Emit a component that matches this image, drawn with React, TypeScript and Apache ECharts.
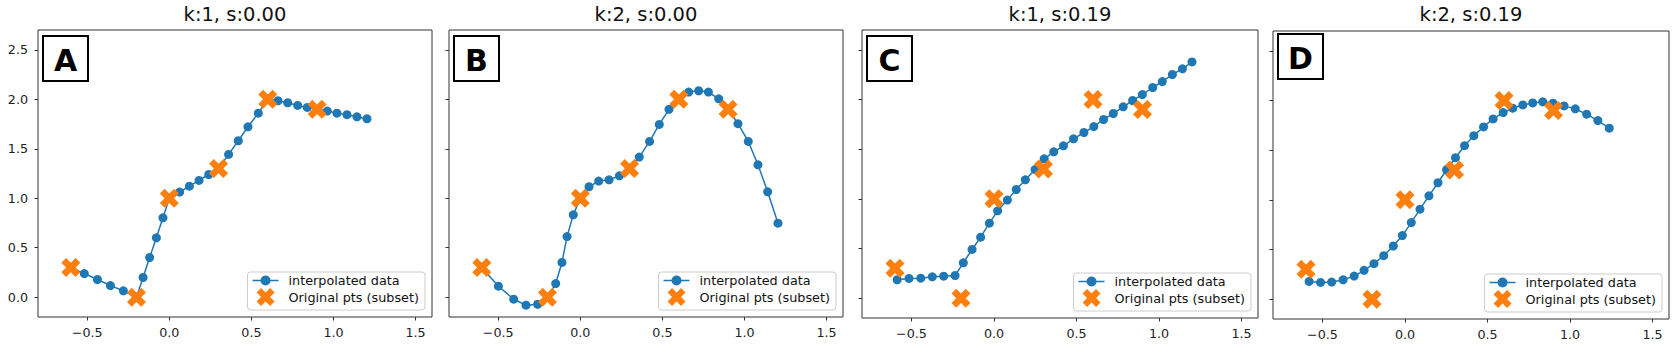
import React, { useEffect, useRef } from "react";
import * as echarts from "echarts";

// ---------- data ----------
const titles = ["k:1, s:0.00", "k:2, s:0.00", "k:1, s:0.19", "k:2, s:0.19"];
const panelLabels = ["A", "B", "C", "D"];
const lineName = "interpolated data";
const ptsName = "Original pts (subset)";

const origX = [-0.6, -0.2, 0.0, 0.3, 0.6, 0.9];
const origY = [0.3, 0.0, 1.0, 1.3, 2.0, 1.9];

const interpAX = [-0.6, -0.518, -0.438, -0.359, -0.28, -0.2, -0.16, -0.12, -0.079, -0.039, 0, 0.063, 0.122, 0.181, 0.24, 0.3, 0.361, 0.42, 0.479, 0.542, 0.6, 0.662, 0.721, 0.782, 0.84, 0.9, 0.962, 1.021, 1.082, 1.143, 1.204];
const interpAY = [0.3, 0.239, 0.179, 0.118, 0.064, 0.0, 0.199, 0.401, 0.6, 0.802, 1.0, 1.062, 1.122, 1.18, 1.24, 1.3, 1.443, 1.581, 1.722, 1.86, 2.0, 1.985, 1.965, 1.938, 1.918, 1.9, 1.881, 1.86, 1.844, 1.823, 1.803];

const interpBX = [-0.601, -0.499, -0.406, -0.331, -0.26, -0.2, -0.15, -0.112, -0.081, -0.043, 0, 0.053, 0.112, 0.175, 0.238, 0.298, 0.359, 0.422, 0.481, 0.54, 0.599, 0.66, 0.721, 0.78, 0.843, 0.901, 0.96, 1.023, 1.082, 1.141, 1.204];
const interpBY = [0.3, 0.111, -0.02, -0.081, -0.071, 0, 0.138, 0.351, 0.613, 0.832, 1.0, 1.116, 1.173, 1.186, 1.227, 1.301, 1.416, 1.574, 1.746, 1.898, 2.002, 2.073, 2.086, 2.073, 2.005, 1.901, 1.753, 1.574, 1.338, 1.065, 0.748];

const interpCX = [-0.587, -0.515, -0.444, -0.374, -0.305, -0.236, -0.186, -0.133, -0.081, -0.028, 0.022, 0.081, 0.135, 0.19, 0.249, 0.304, 0.362, 0.421, 0.482, 0.545, 0.605, 0.664, 0.723, 0.783, 0.84, 0.899, 0.962, 1.02, 1.081, 1.142, 1.2];
const interpCY = [0.185, 0.198, 0.201, 0.215, 0.221, 0.228, 0.356, 0.49, 0.614, 0.755, 0.879, 0.987, 1.094, 1.191, 1.295, 1.403, 1.473, 1.534, 1.604, 1.668, 1.728, 1.799, 1.859, 1.926, 1.99, 2.05, 2.121, 2.181, 2.252, 2.309, 2.379];

const interpDX = [-0.581, -0.512, -0.444, -0.375, -0.308, -0.248, -0.188, -0.129, -0.071, -0.016, 0.038, 0.091, 0.145, 0.2, 0.252, 0.306, 0.361, 0.417, 0.476, 0.534, 0.595, 0.653, 0.714, 0.774, 0.835, 0.897, 0.964, 1.032, 1.101, 1.169, 1.238];
const interpDY = [0.178, 0.168, 0.172, 0.195, 0.232, 0.29, 0.357, 0.438, 0.535, 0.64, 0.771, 0.906, 1.04, 1.172, 1.303, 1.424, 1.545, 1.646, 1.734, 1.815, 1.879, 1.923, 1.956, 1.976, 1.987, 1.973, 1.946, 1.916, 1.862, 1.798, 1.721];

const xTicks = [-0.5, 0.0, 0.5, 1.0, 1.5];
const yTicks = [0.0, 0.5, 1.0, 1.5, 2.0, 2.5];
const xMin = -0.8;
const xMax = 1.6;
const yMin = -0.2;
const yMax = 2.7;

const interpX = [interpAX, interpBX, interpCX, interpDX];
const interpY = [interpAY, interpBY, interpCY, interpDY];

// ---------- layout / style ----------
const W = 1677;
const H = 353;
const grids = [
  { left: 38, top: 30, width: 394, height: 287, labelTop: 36 },
  { left: 449, top: 30, width: 394, height: 287, labelTop: 36 },
  { left: 862, top: 30, width: 396, height: 288, labelTop: 36 },
  { left: 1273, top: 31, width: 396, height: 288, labelTop: 34 },
];
const BLUE = "#1f77b4";
const ORANGE = "#ff7f0e";
const FONT = "DejaVu Sans";
const X_PATH = "path://M1,-2L2,-1L1,0L2,1L1,2L0,1L-1,2L-2,1L-1,0L-2,-1L-1,-2L0,-1Z";
const LINE_ICON = "path://M0,4.25L26,4.25L26,5.75L0,5.75Z M18,5A5,5,0,1,1,8,5A5,5,0,1,1,18,5Z";

const fmt = (v: number) => v.toFixed(1).replace("-", "\u2212");

export default function App() {
  const ref = useRef<HTMLDivElement>(null);

  useEffect(() => {
    if (!ref.current) return;
    const chart = echarts.init(ref.current, undefined, { renderer: "svg" });

    const xAxis: any[] = [];
    const yAxis: any[] = [];
    const series: any[] = [];
    const title: any[] = [];
    const legend: any[] = [];
    const graphic: any[] = [];

    grids.forEach((g, i) => {
      xAxis.push({
        type: "value",
        gridIndex: i,
        min: xMin,
        max: xMax,
        axisLine: { show: false, onZero: false },
        splitLine: { show: false },
        axisTick: { show: true, length: 3.5, lineStyle: { color: "#333", width: 1 }, customValues: xTicks },
        axisLabel: {
          show: true,
          customValues: xTicks,
          formatter: (v: number) => fmt(v),
          margin: 9,
          fontSize: 12.7,
          fontFamily: FONT,
          color: "#222",
        },
      });
      yAxis.push({
        type: "value",
        gridIndex: i,
        min: yMin,
        max: yMax,
        axisLine: { show: false, onZero: false },
        splitLine: { show: false },
        axisTick: { show: true, length: 3.5, lineStyle: { color: "#333", width: 1 }, customValues: yTicks },
        axisLabel: {
          show: i === 0,
          customValues: yTicks,
          formatter: (v: number) => fmt(v),
          margin: 10,
          fontSize: 12.7,
          fontFamily: FONT,
          color: "#222",
        },
      });
      series.push({
        name: lineName,
        type: "line",
        xAxisIndex: i,
        yAxisIndex: i,
        data: interpX[i].map((x, j) => [x, interpY[i][j]]),
        symbol: "circle",
        symbolSize: 9,
        showAllSymbol: true,
        lineStyle: { color: BLUE, width: 1.5 },
        itemStyle: { color: BLUE, borderWidth: 0, opacity: 1 },
        z: 2,
      });
      series.push({
        name: ptsName,
        type: "scatter",
        xAxisIndex: i,
        yAxisIndex: i,
        data: origX.map((x, j) => [x, origY[j]]),
        symbol: X_PATH,
        symbolSize: 19,
        itemStyle: { color: ORANGE, opacity: 1 },
        z: 3,
      });
      title.push({
        text: titles[i],
        left: g.left + g.width / 2,
        top: 4,
        textAlign: "center",
        padding: 0,
        textStyle: { fontSize: 19.5, fontWeight: "normal", fontFamily: FONT, color: "#111" },
      });
      legend.push({
        data: [
          { name: lineName, icon: LINE_ICON },
          { name: ptsName, icon: X_PATH },
        ],
        orient: "vertical",
        align: "left",
        right: W - (g.left + g.width - 7),
        bottom: H - (g.top + g.height - 7),
        itemWidth: 26,
        itemHeight: 18,
        itemGap: 1,
        padding: [2, 6, 4, 5],
        backgroundColor: "rgba(255,255,255,0.8)",
        borderColor: "#cccccc",
        borderWidth: 1,
        borderRadius: 3,
        selectedMode: false,
        itemStyle: { borderWidth: 0, opacity: 1 },
        formatter: (name: string) => "{t|" + name + "}",
        textStyle: {
          fontSize: 12.8,
          fontFamily: FONT,
          color: "#111",
          rich: { t: { fontSize: 12.8, fontFamily: FONT, color: "#111", padding: [0, 0, 0, 5] } },
        },
        z: 10,
      });
      const bx = g.left + 5;
      const by = g.labelTop;
      graphic.push({
        type: "rect",
        shape: { x: bx, y: by, width: 45, height: 45 },
        style: { fill: "#fff", stroke: "#000", lineWidth: 2 },
        z: 20,
      });
      graphic.push({
        type: "text",
        x: bx + 22.5,
        y: by + 24,
        style: {
          text: panelLabels[i],
          fontSize: 30,
          fontWeight: "bold",
          fontFamily: FONT,
          fill: "#000",
          align: "center",
          verticalAlign: "middle",
        },
        z: 21,
      });
    });

    chart.setOption({
      animation: false,
      backgroundColor: "#fff",
      title,
      legend,
      grid: grids.map((g) => ({
        left: g.left,
        top: g.top,
        width: g.width,
        height: g.height,
        show: true,
        borderColor: "#333",
        borderWidth: 1,
        backgroundColor: "transparent",
        containLabel: false,
      })),
      xAxis,
      yAxis,
      series,
      graphic,
    });

    return () => chart.dispose();
  }, []);

  return (
    <div
      ref={ref}
      style={{ position: "fixed", left: 0, top: 0, width: W, height: H, background: "#fff" }}
    />
  );
}
